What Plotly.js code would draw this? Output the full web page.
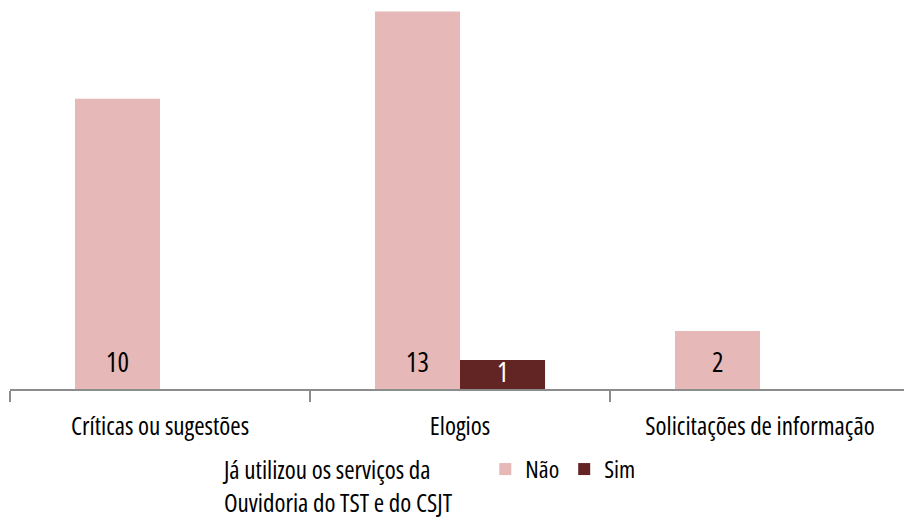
<!DOCTYPE html>
<html>
<head>
<meta charset="utf-8">
<script src="https://cdn.plot.ly/plotly-3.0.1.min.js"></script>
<style>
html,body{margin:0;padding:0;background:#fff;}
#chart{width:904px;height:524px;}
text{font-stretch:condensed !important;}
</style>
</head>
<body>
<div id="chart"></div>
<script>
const categories = ["Críticas ou sugestões", "Elogios", "Solicitações de informação"];
const naoValues = [10, 13, 2];
const simValues = [0, 1, 0];
const seriesNames = ["Não", "Sim"];
const legendTitleLines = ["Já utilizou os serviços da", "Ouvidoria do TST e do CSJT"];

const FONT = "'Open Sans', 'Roboto', sans-serif";
const naoColor = "#E6B8B7";
const simColor = "#632523";
const PAD = "\u00A0\u00A0\u00A0\u00A0\u00A0";

const traces = [
  {type: "bar", name: seriesNames[0], x: categories, y: naoValues,
   marker: {color: naoColor}, hoverinfo: "skip"},
  {type: "bar", name: seriesNames[1], x: categories, y: simValues,
   marker: {color: simColor}, hoverinfo: "skip"}
];

// data labels near the base of each bar (text taken from the data arrays)
const annotations = [];
const groupShift = 42.5;
naoValues.forEach((v, i) => {
  if (v) annotations.push({x: categories[i], y: 0, xref: "x", yref: "y", text: String(v),
    showarrow: false, xshift: -groupShift, yshift: 28, yanchor: "middle",
    font: {family: FONT, size: 27, color: "#000000"}});
});
simValues.forEach((v, i) => {
  if (v) annotations.push({x: categories[i], y: 0, xref: "x", yref: "y", text: String(v),
    showarrow: false, xshift: groupShift, yshift: 18, yanchor: "middle",
    font: {family: FONT, size: 27, color: "#ffffff"}});
});

const layout = {
  width: 904, height: 524,
  margin: {l: 10, r: 0, t: 0, b: 135, autoexpand: false},
  paper_bgcolor: "#ffffff", plot_bgcolor: "#ffffff",
  font: {family: FONT, size: 25, color: "#000000"},
  barmode: "group", bargap: 0.433, bargroupgap: 0,
  showlegend: true,
  annotations: annotations,
  xaxis: {
    type: "category", range: [-0.5, 2.48], automargin: false,
    showline: true, linecolor: "#8c8c8c", linewidth: 1.5,
    ticks: "outside", tickson: "boundaries", ticklen: 11, tickcolor: "#8c8c8c", tickwidth: 1.5,
    ticklabelstandoff: 14, tickangle: 0,
    tickfont: {family: FONT, size: 25, color: "#000000"},
    showgrid: false, zeroline: false, fixedrange: true
  },
  yaxis: {range: [0, 13.4], visible: false, showgrid: false, zeroline: false, fixedrange: true},
  legend: {
    orientation: "h", x: 0.237, xanchor: "left", y: -0.149, yanchor: "top",
    title: {text: legendTitleLines.map(s => s + PAD).join("<br>"), side: "left",
            font: {family: FONT, size: 25, color: "#000000"}},
    font: {family: FONT, size: 24, color: "#000000"},
    itemwidth: 30, tracegroupgap: 0, bgcolor: "rgba(0,0,0,0)"
  }
};

Plotly.newPlot("chart", traces, layout, {displayModeBar: false, staticPlot: true});
</script>
</body>
</html>
